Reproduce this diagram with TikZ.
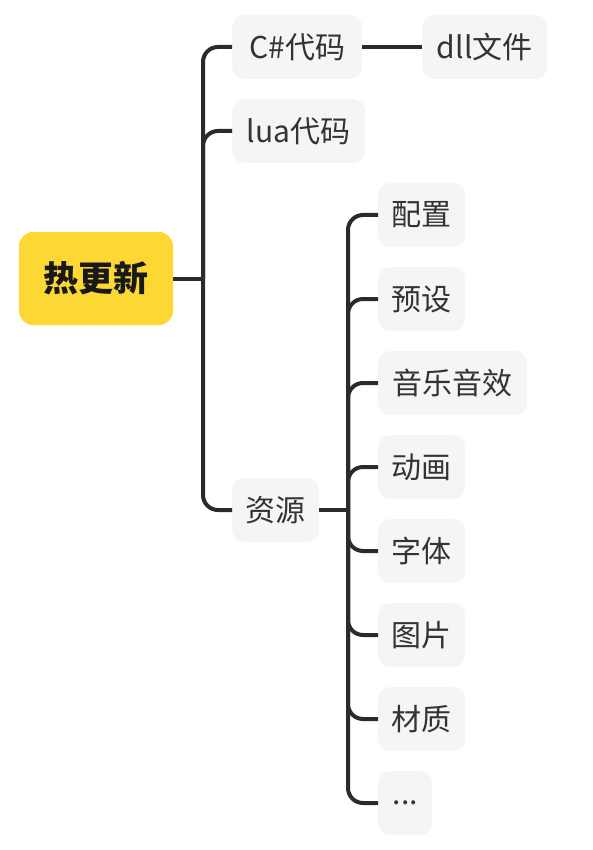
\documentclass[tikz,border=0pt]{standalone}
\usepackage{fontspec}
\setmainfont{Noto Sans CJK SC}
\definecolor{linec}{HTML}{2B2B2B}
\definecolor{boxc}{HTML}{F5F5F5}
\definecolor{rootc}{HTML}{FDD835}
\definecolor{textc}{HTML}{333333}
\tikzset{
  topic/.style={fill=boxc, rounded corners=12pt, minimum height=64pt, inner sep=0pt, anchor=west, text=textc, font=\fontsize{30}{32}\selectfont},
  rootbox/.style={fill=rootc, rounded corners=14pt, minimum width=154pt, minimum height=93pt, inner sep=0pt, text=black!90, font=\fontsize{35}{37}\selectfont\bfseries},
  conn/.style={draw=linec, line width=4pt, rounded corners=15pt}
}
\begin{document}
\begin{tikzpicture}[x=1pt,y=-1pt]
\useasboundingbox (0,0) rectangle (593,850);
\node[rootbox] (root) at (96,278.5) {热更新};
\node[topic, minimum width=130pt] (cs) at (232,47) {C\#代码};
\node[topic, minimum width=133pt] (lua) at (232,131) {lua代码};
\node[topic, minimum width=87pt] (res) at (232,510) {资源};
\node[topic, minimum width=125pt] (dll) at (422,47) {dll文件};
\node[topic, minimum width=87pt] (r1) at (378,215) {配置};
\node[topic, minimum width=87pt] (r2) at (378,299) {预设};
\node[topic, minimum width=149pt] (r3) at (378,383) {音乐音效};
\node[topic, minimum width=87pt] (r4) at (378,467) {动画};
\node[topic, minimum width=87pt] (r5) at (378,551) {字体};
\node[topic, minimum width=87pt] (r6) at (378,635) {图片};
\node[topic, minimum width=87pt] (r7) at (378,719) {材质};
\node[topic, minimum width=54pt] (r8) at (378,803) {...};
\coordinate (j1) at (203,278.5);
\coordinate (j2) at (348,510);
\draw[conn] (root.east) -- (j1);
\draw[conn] (j1) |- (cs.west);
\draw[conn] (j1) |- (lua.west);
\draw[conn] (j1) |- (res.west);
\draw[conn] (cs.east) -- (dll.west);
\draw[conn] (res.east) -- (j2);
\foreach \n in {r1,r2,r3,r4,r5,r6,r7,r8} {
  \draw[conn] (j2) |- (\n.west);
}
\end{tikzpicture}
\end{document}
